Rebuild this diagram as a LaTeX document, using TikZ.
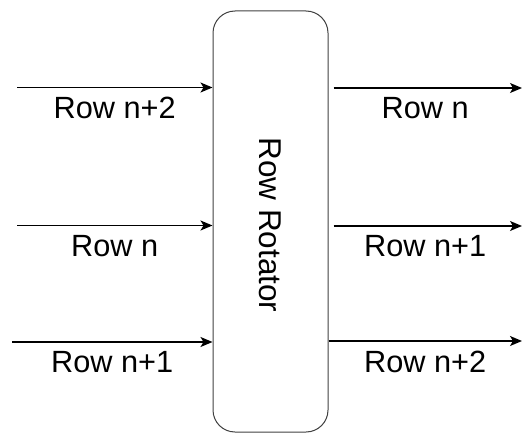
\documentclass[tikz,border=0pt]{standalone}
\usepackage{fontspec}
\setmainfont{Liberation Sans}
\usepackage{graphicx}
\usepackage{tikz}
\usetikzlibrary{arrows.meta}
\newcommand{\bigfont}{\fontsize{30.7}{36}\selectfont}
\tikzset{
  rotbox/.style={draw=black!75, line width=1pt, rounded corners=22pt,
    minimum width=115pt, minimum height=421pt, inner sep=0pt,
    font=\fontsize{31.5}{36}\selectfont},
  rowarr/.style={-{Stealth[length=12pt, width=10pt, inset=3pt]}, line width=1.4pt},
  rowlbl/.style={font=\bigfont, below=6pt, inner sep=3pt},
}

\begin{document}
\begin{tikzpicture}[x=1pt, y=-1pt]
  \useasboundingbox (0,0) rectangle (522,433);
  \node[rotbox] (rot) at (270.5,221.5) {\rotatebox{-90}{\hspace*{7pt}Row Rotator}};
  % rows coming in
  \foreach \i/\x/\y/\t in {1/17/87.5/Row n+2, 2/17/225.5/Row n, 3/12/342/Row n+1} {
    \coordinate (in\i) at (\x,\y);
    \draw[rowarr] (in\i) -- (in\i -| rot.west) node[rowlbl, midway] {\t};
  }
  % rows going out
  \foreach \i/\s/\y/\t in {1/5/88/Row n, 2/5/226/Row n+1, 3/0/341/Row n+2} {
    \coordinate (out\i) at (522,\y);
    \draw[rowarr, shorten <=\s pt] (rot.east |- out\i) -- (out\i) node[rowlbl, midway] {\t};
  }
\end{tikzpicture}
\end{document}
